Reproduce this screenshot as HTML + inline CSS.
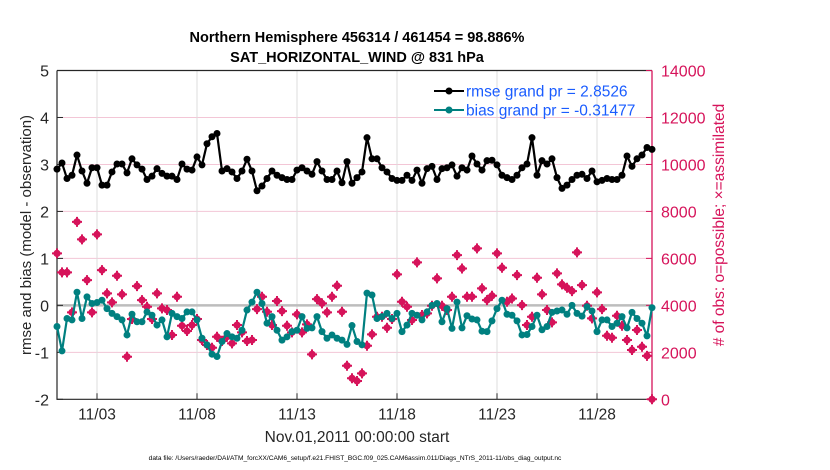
<!DOCTYPE html>
<html><head><meta charset="utf-8"><style>
html,body{margin:0;padding:0;background:#fff;}
svg{display:block;font-family:"Liberation Sans",Arial,sans-serif;}
</style></head><body>
<svg id="chart" width="830" height="470" viewBox="0 0 830 470" xmlns="http://www.w3.org/2000/svg">
<g id="grid"></g>
<g id="axes"></g>
<g id="marks"></g>
<text x="357" y="42" text-anchor="middle" font-size="14.5" font-weight="bold">Northern Hemisphere 456314 / 461454 = 98.886%</text>
<text x="357" y="62" text-anchor="middle" font-size="14.5" font-weight="bold">SAT_HORIZONTAL_WIND @ 831 hPa</text>
<text x="357" y="442" text-anchor="middle" font-size="15.5" fill="#262626">Nov.01,2011 00:00:00 start</text>
<text x="355" y="460" text-anchor="middle" font-size="6.6" fill="#000">data file: /Users/raeder/DAI/ATM_forcXX/CAM6_setup/f.e21.FHIST_BGC.f09_025.CAM6assim.011/Diags_NTrS_2011-11/obs_diag_output.nc</text>
<text transform="translate(31,235) rotate(-90)" text-anchor="middle" font-size="15" fill="#262626">rmse and bias (model - observation)</text>
<text transform="translate(724,225) rotate(-90)" text-anchor="middle" font-size="15.5" fill="#d6135a">#  of obs: o=possible; ×=assimilated</text>
<g>
<line x1="434" y1="91" x2="464" y2="91" stroke="#000" stroke-width="2"/>
<circle cx="449" cy="91" r="3.5" fill="#000"/>
<text x="466" y="96.5" font-size="15.5" fill="#1a5cff">rmse grand pr = 2.8526</text>
<line x1="434" y1="110" x2="464" y2="110" stroke="#008080" stroke-width="2"/>
<circle cx="449" cy="110" r="3.5" fill="#008080"/>
<text x="466" y="115.5" font-size="15.5" fill="#1a5cff">bias grand pr = -0.31477</text>
</g>
</svg>
<script>
const rmse = [2.90,3.03,2.70,2.77,3.20,2.86,2.60,2.93,2.93,2.56,2.56,2.84,3.01,3.01,2.82,3.12,2.99,2.90,2.68,2.75,2.91,2.81,2.75,2.75,2.68,3.01,2.90,2.88,3.16,2.99,3.44,3.59,3.66,2.86,2.91,2.84,2.70,2.86,3.11,2.86,2.44,2.54,2.70,2.86,2.77,2.72,2.68,2.68,2.88,2.93,2.86,2.79,3.06,2.86,2.68,2.68,2.86,2.61,3.06,
2.60,2.72,2.84,3.57,3.12,3.12,2.93,2.84,2.70,2.66,2.66,2.77,2.66,2.88,2.60,2.91,2.96,2.68,2.91,2.93,2.99,2.75,2.93,2.88,3.18,3.01,2.88,3.08,3.09,2.99,2.77,2.72,2.68,2.77,2.93,3.01,3.57,2.77,3.08,3.01,3.12,2.72,2.49,2.56,2.68,2.77,2.79,2.70,2.86,2.63,2.66,2.70,2.68,2.68,2.77,3.18,2.96,3.12,3.20,3.36,3.32];
const bias = [-0.45,-0.97,-0.28,-0.31,0.28,-0.28,0.18,0.04,0.06,0.11,-0.07,-0.17,-0.24,-0.31,-0.63,-0.19,-0.35,-0.35,-0.14,-0.21,-0.42,-0.31,-0.67,-0.17,-0.24,-0.28,-0.14,-0.14,-0.31,-0.70,-0.84,-1.04,-1.09,-0.77,-0.60,-0.67,-0.70,-0.53,-0.10,
0.07,0.28,0.04,-0.38,-0.24,-0.53,-0.74,-0.67,-0.56,-0.53,-0.24,-0.49,-0.48,-0.24,-0.56,-0.70,-0.63,-0.70,-0.74,-0.83,-0.43,-0.77,-0.84,0.26,0.22,-0.28,-0.24,-0.17,-0.28,-0.17,-0.56,-0.42,-0.17,-0.21,-0.31,-0.14,0.0,0.04,-0.35,-0.07,-0.49,
0.07,-0.48,-0.22,-0.29,-0.31,-0.55,-0.56,-0.33,-0.07,0.11,-0.19,-0.21,-0.33,-0.63,-0.62,-0.45,-0.21,-0.52,-0.45,-0.15,-0.12,-0.10,-0.19,0.0,-0.17,-0.23,-0.03,-0.12,-0.56,-0.31,-0.31,-0.45,-0.38,-0.24,-0.48,-0.15,-0.28,-0.38,-0.65,-0.05];
const nobs = [6212,5404,5404,3702,7557,6808,5076,3702,7021,5502,4510,4127,5259,4468,1813,3417,4821,4225,3940,3417,4510,3872,3800,2736,4366,3132,2906,3161,3417,2523,2310,2196,2664,2481,2664,2383,3161,2851,2481,
2523,3842,4366,3727,3161,4183,3757,3132,2851,3617,2851,3191,1915,4268,4085,3702,4366,4834,3727,1430,894,779,1106,2281,2766,3515,3515,3047,3417,5319,4153,3940,3374,5829,3587,3659,3983,5149,3983,3800,4366,
6140,5570,4366,4366,6425,4723,4225,4408,6212,5600,4153,4293,5289,4012,3161,3515,5174,4468,3800,3276,5361,4893,4749,4608,6255,4864,3983,3447,4553,3842,2706,2621,3557,3132,2523,2098,2949,2238,1850,0];
const xTickLabels = ["11/03","11/08","11/13","11/18","11/23","11/28"];
const xTickDays = [2,7,12,17,22,27];
const yLeftTicks = [5,4,3,2,1,0,-1,-2];
const yRightTicks = [14000,12000,10000,8000,6000,4000,2000,0];
const stepDays = 0.25;

const NS="http://www.w3.org/2000/svg";
const L=57,R=652,T=70.5,B=399.3;
const xDay=d=>L+d*20;
const yL=v=>T+(5-v)*(B-T)/7;
const yR=v=>B-v*(B-T)/14000;
function mk(tag,attrs,parent){const e=document.createElementNS(NS,tag);for(const k in attrs)e.setAttribute(k,attrs[k]);parent.appendChild(e);return e;}
const grid=document.getElementById('grid'),axes=document.getElementById('axes'),marks=document.getElementById('marks');

yRightTicks.forEach(v=>{if(v>0&&v<14000){const g=mk('line',{x1:L,x2:R,y1:yR(v),y2:yR(v),stroke:'#f3c6d6','stroke-width':1},grid);

}});
xTickDays.forEach(d=>{const g=mk('line',{x1:xDay(d),x2:xDay(d),y1:T,y2:B,stroke:'#dcdcdc','stroke-width':1},grid);

});
const z=mk('line',{x1:L,x2:R,y1:yL(0),y2:yL(0),stroke:'#bdbdbd','stroke-width':2.5},grid);



const ax1=mk('path',{d:`M${L},${T}H${R}M${L},${T}V${B}H${R}`,stroke:'#262626','stroke-width':1.2,fill:'none'},axes);


const ax2=mk('line',{x1:R,x2:R,y1:T,y2:B,stroke:'#d6135a','stroke-width':1.3},axes);


yLeftTicks.forEach(v=>{
  mk('line',{x1:L,x2:L+6,y1:yL(v),y2:yL(v),stroke:'#262626'},axes);
  const t=mk('text',{x:L-8,y:yL(v)+6,'text-anchor':'end','font-size':16,fill:'#262626'},axes);t.textContent=v;
  
  
});
yRightTicks.forEach(v=>{
  mk('line',{x1:R-6,x2:R,y1:yR(v),y2:yR(v),stroke:'#d6135a'},axes);
  const t=mk('text',{x:R+9,y:yR(v)+6,'font-size':16,fill:'#d6135a'},axes);t.textContent=v;
  
  
});
xTickDays.forEach((d,i)=>{
  mk('line',{x1:xDay(d),x2:xDay(d),y1:B,y2:B-6,stroke:'#262626'},axes);
  const t=mk('text',{x:xDay(d),y:B+20,'text-anchor':'middle','font-size':15.5,fill:'#262626'},axes);t.textContent=xTickLabels[i];
  
  
});

nobs.forEach((v,i)=>{
  const cx=xDay(i*stepDays),cy=yR(v);
  const g=mk('g',{},marks);
  
  
  mk('circle',{cx:cx,cy:cy,r:3.6,fill:'#d6135a'},g);
  mk('path',{d:`M${cx-5},${cy}H${cx+5}M${cx},${cy-5}V${cy+5}`,stroke:'#d6135a','stroke-width':2},g);
});
function series(arr,color,name){
  const pts=arr.map((v,i)=>[xDay(i*stepDays),yL(v)]);
  const p=mk('polyline',{points:pts.map(p=>p.join(',')).join(' '),fill:'none',stroke:color,'stroke-width':2.2,'stroke-linejoin':'round'},marks);
  
  
  pts.forEach(q=>{const c=mk('circle',{cx:q[0],cy:q[1],r:3.5,fill:color},marks);
  
  });
}
series(bias,'#008080','bias');
series(rmse,'#000000','rmse');
</script>
</body></html>
